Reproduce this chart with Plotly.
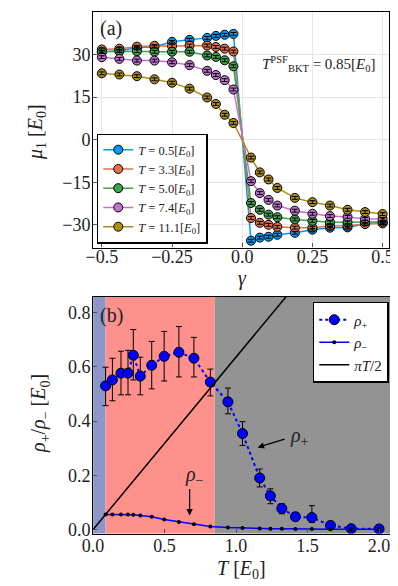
import plotly.graph_objects as go

# ---------------- panel (a) data ----------------
gamma = [-0.5, -0.4375, -0.375, -0.3125, -0.25, -0.1875, -0.125, -0.09375, -0.0625, -0.03125,
         0.03125, 0.0625, 0.09375, 0.125, 0.1875, 0.25, 0.3125, 0.375, 0.4375, 0.5]
series_T = ["0.5", "3.3", "5.0", "7.4", "11.1"]
mu_T05 = [31.0, 31.4, 32.4, 32.8, 34.5, 35.2, 35.9, 36.6, 37.0, 37.3,
          -35.6, -34.5, -34.2, -33.5, -32.8, -31.7, -31.0, -30.9, -29.6, -29.3]
mu_T33 = [31.8, 32.1, 32.8, 33.1, 33.0, 33.2, 33.2, 32.7, 32.1, 31.1,
          -27.6, -29.3, -30.0, -30.7, -31.0, -31.0, -30.4, -30.3, -29.7, -29.5]
mu_T50 = [31.0, 31.2, 31.2, 31.0, 31.0, 31.0, 29.7, 29.2, 28.0, 25.9,
          -22.3, -24.7, -26.4, -27.3, -28.1, -28.6, -29.1, -29.1, -28.9, -28.9]
mu_T74 = [29.1, 28.5, 27.9, 27.9, 27.3, 26.3, 24.3, 22.8, 21.0, 17.7,
          -14.6, -18.8, -21.2, -23.2, -25.0, -26.1, -26.9, -27.2, -27.9, -27.9]
mu_T111 = [23.4, 23.0, 22.4, 21.3, 20.1, 18.0, 14.9, 12.6, 8.8, 5.9,
           -6.3, -11.5, -14.0, -17.0, -20.5, -22.0, -23.2, -24.7, -25.5, -26.2]
mu_series = [mu_T05, mu_T33, mu_T50, mu_T74, mu_T111]
mu_err = 0.5
colors_a = ["#009AFA", "#E36F47", "#3EA44E", "#C271D2", "#AC8E18"]

# ---------------- panel (b) data ----------------
T_vals = [0.0875, 0.135, 0.195, 0.244, 0.281, 0.33, 0.41, 0.497, 0.60, 0.705, 0.82,
          0.943, 1.045, 1.165, 1.24, 1.32, 1.415, 1.53, 1.66, 1.805, 2.0]
rho_plus = [0.530, 0.552, 0.577, 0.577, 0.643, 0.566, 0.606, 0.639, 0.654, 0.632, 0.544,
            0.471, 0.354, 0.190, 0.124, 0.077, 0.047, 0.044, 0.015, 0.003, 0.002]
rho_plus_err_up = [0.069, 0.080, 0.081, 0.084, 0.095, 0.070, 0.088, 0.092, 0.095, 0.077, 0.048,
                   0.051, 0.044, 0.033, 0.026, 0.018, 0.015, 0.044, 0.010, 0.004, 0.003]
rho_plus_err_dn = [0.073, 0.077, 0.080, 0.080, 0.091, 0.069, 0.087, 0.091, 0.091, 0.069, 0.051,
                   0.044, 0.044, 0.033, 0.029, 0.019, 0.014, 0.018, 0.008, 0.002, 0.001]
rho_minus = [0.055, 0.055, 0.055, 0.055, 0.054, 0.052, 0.047, 0.037, 0.028, 0.019, 0.011,
             0.007, 0.005, 0.004, 0.003, 0.003, 0.002, 0.002, 0.001, 0.001, 0.001]
line_T = [0.0, 1.4]
line_rho = [0.0, 0.891]
T_low = 0.0875
T_bkt = 0.85
T_max = 2.08

FONT = "Liberation Serif, Times New Roman, serif"
TXT = "#222"

fig = go.Figure()

# panel (a)
for tv, ys, c in zip(series_T, mu_series, colors_a):
    fig.add_trace(go.Scatter(
        x=gamma, y=ys, mode="lines+markers", xaxis="x", yaxis="y",
        name=f"<i>T</i> = {tv}[<i>E</i><sub>0</sub>]", legend="legend",
        line=dict(color=c, width=1.5),
        marker=dict(color=c, size=9, line=dict(color="black", width=1)),
    ))
for ys in mu_series:
    fig.add_trace(go.Scatter(
        x=gamma, y=ys, mode="markers", xaxis="x", yaxis="y", showlegend=False,
        marker=dict(color="rgba(0,0,0,0)", size=1),
        error_y=dict(type="constant", value=mu_err, color="black", thickness=1, width=3),
        hoverinfo="skip",
    ))

# panel (b)
fig.add_trace(go.Scatter(
    x=T_vals, y=rho_plus, mode="lines+markers", xaxis="x2", yaxis="y2",
    name="<i>ρ</i><sub>+</sub>", legend="legend2",
    line=dict(color="blue", width=2, dash="dot"),
    marker=dict(color="blue", size=10, line=dict(color="black", width=1)),
    error_y=dict(type="data", array=rho_plus_err_up, arrayminus=rho_plus_err_dn,
                 color="black", thickness=1, width=3),
))
fig.add_trace(go.Scatter(
    x=T_vals, y=rho_minus, mode="lines+markers", xaxis="x2", yaxis="y2",
    name="<i>ρ</i><sub>−</sub>", legend="legend2",
    line=dict(color="blue", width=1.5),
    marker=dict(color="black", size=4),
))
fig.add_trace(go.Scatter(
    x=line_T, y=line_rho, mode="lines", xaxis="x2", yaxis="y2",
    name="<i>πT</i>/2", legend="legend2",
    line=dict(color="black", width=1.5),
))

# background regions panel (b)
fig.add_shape(type="rect", xref="x2", yref="y2 domain", x0=0, x1=T_low, y0=0, y1=1,
              fillcolor="rgb(140,150,200)", line_width=0, layer="below")
fig.add_shape(type="rect", xref="x2", yref="y2 domain", x0=T_low, x1=T_bkt, y0=0, y1=1,
              fillcolor="rgb(255,145,140)", line_width=0, layer="below")
fig.add_shape(type="rect", xref="x2", yref="y2 domain", x0=T_bkt, x1=T_max, y0=0, y1=1,
              fillcolor="rgb(147,147,147)", line_width=0, layer="below")

tickfont = dict(family=FONT, size=18, color=TXT)
ax_common = dict(showline=True, linecolor="black", linewidth=1.2, mirror=True,
                 ticks="inside", ticklen=4, tickcolor="#555", tickfont=tickfont, zeroline=False)

fig.update_layout(
    width=398, height=586, margin=dict(l=0, r=0, t=0, b=0),
    paper_bgcolor="white", plot_bgcolor="white",
    font=dict(family=FONT, color=TXT),
    xaxis=dict(domain=[0.1935, 0.967], anchor="y", range=[-0.531, 0.524],
               tickvals=[-0.5, -0.25, 0, 0.25, 0.5], ticktext=["−0.5", "−0.25", "0.0", "0.25", "0.5"],
               showgrid=True, gridcolor="#e6e6e6", ticklabelstandoff=-7, **ax_common),
    yaxis=dict(domain=[0.587, 0.993], anchor="x", range=[-38, 45],
               tickvals=[-30, -15, 0, 15, 30], ticktext=["−30", "−15", "0", "15", "30"],
               showgrid=True, gridcolor="#e6e6e6", ticklabelstandoff=-2, **ax_common),
    xaxis2=dict(domain=[0.1935, 0.970], anchor="y2", range=[0, T_max],
                tickvals=[0, 0.5, 1.0, 1.5, 2.0], ticktext=["0.0", "0.5", "1.0", "1.5", "2.0"],
                showgrid=False, ticklabelstandoff=-4, **ax_common),
    yaxis2=dict(domain=[0.0939, 0.5017], anchor="x2", range=[-0.015, 0.858],
                tickvals=[0, 0.2, 0.4, 0.6, 0.8], ticktext=["0.0", "0.2", "0.4", "0.6", "0.8"],
                showgrid=False, ticklabelstandoff=-2, **ax_common),
    legend=dict(x=0.203, y=1 - 238 / 586, xanchor="left", yanchor="bottom",
                bgcolor="white", bordercolor="black", borderwidth=1.5,
                font=dict(family=FONT, size=12.5, color=TXT), tracegroupgap=0,
                itemwidth=30),
    legend2=dict(x=0.767, y=1 - 297 / 586, xanchor="left", yanchor="top",
                 bgcolor="white", bordercolor="black", borderwidth=1.5,
                 font=dict(family=FONT, size=15, color=TXT), tracegroupgap=0,
                 itemwidth=30),
    showlegend=True,
)

ann = [
    dict(text="(a)", x=82 / 398, y=1 - 21 / 586, xanchor="left", yanchor="middle", font_size=20),
    dict(text="(b)", x=82 / 398, y=1 - 311 / 586, xanchor="left", yanchor="middle", font_size=20),
    dict(text="<i>T</i><sup>PSF</sup><sub>BKT</sub> = 0.85[<i>E</i><sub>0</sub>]",
         x=312 / 398, y=1 - 57 / 586, xanchor="center", yanchor="middle", font_size=15),
    dict(text="<i>γ</i>", x=232 / 398, y=1 - 273 / 586, xanchor="center", yanchor="middle", font_size=20),
    dict(text="<i>μ</i><sub>1</sub> [<i>E</i><sub>0</sub>]", x=18 / 398, y=1 - 125 / 586,
         xanchor="center", yanchor="middle", textangle=-90, font_size=20),
    dict(text="<i>T</i> [<i>E</i><sub>0</sub>]", x=231 / 398, y=1 - 567 / 586,
         xanchor="center", yanchor="middle", font_size=20),
    dict(text="<i>ρ</i><sub>+</sub>/<i>ρ</i><sub>−</sub> [<i>E</i><sub>0</sub>]", x=22 / 398, y=1 - 410 / 586,
         xanchor="center", yanchor="middle", textangle=-90, font_size=20),
]
for a in ann:
    a.update(xref="paper", yref="paper", showarrow=False)
    a["font"] = dict(family=FONT, size=a.pop("font_size"), color=TXT)
    fig.add_annotation(**a)

# rho+ arrow: tail near label, head near curve
fig.add_annotation(xref="x2", yref="y2", x=1.15, y=0.303, ax=1.35, ay=0.335,
                   axref="x2", ayref="y2", text="", showarrow=True,
                   arrowhead=2, arrowsize=1, arrowwidth=1.3, arrowcolor="black")
fig.add_annotation(xref="x2", yref="y2", x=1.44, y=0.343, text="<i>ρ</i><sub>+</sub>",
                   showarrow=False, font=dict(family=FONT, size=20, color=TXT))
fig.add_annotation(xref="x2", yref="y2", x=0.675, y=0.052, ax=0.675, ay=0.155,
                   axref="x2", ayref="y2", text="", showarrow=True,
                   arrowhead=2, arrowsize=1, arrowwidth=1.3, arrowcolor="black")
fig.add_annotation(xref="x2", yref="y2", x=0.71, y=0.20, text="<i>ρ</i><sub>−</sub>",
                   showarrow=False, font=dict(family=FONT, size=20, color=TXT))

fig.write_html("out.html")
